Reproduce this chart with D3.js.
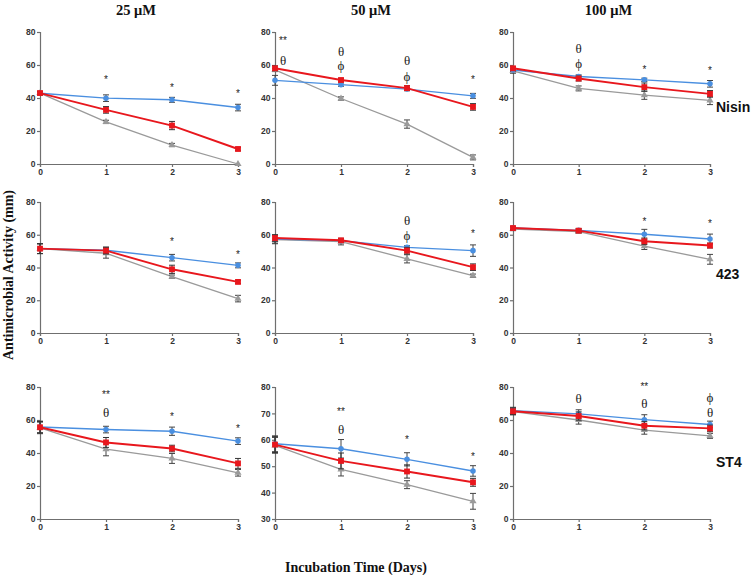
<!DOCTYPE html>
<html><head><meta charset="utf-8">
<script src="https://cdn.jsdelivr.net/npm/d3@7"></script>
<style>body{margin:0;background:#fff}svg{display:block}</style>
</head><body>
<script>
// ---------- DATA ----------
const days = [0, 1, 2, 3];
const concentrations = ["25 μM", "50 μM", "100 μM"];
const strains = ["Nisin", "423", "ST4"];
const yAxisLabel = "Antimicrobial Activity (mm)";
const xAxisLabel = "Incubation Time (Days)";
// panel order: row (strain) major, column (concentration) minor
const yTicksDefault = [0, 20, 40, 60, 80];
const yTicksST4_50 = [30, 40, 50, 60, 70, 80];
const blueMean = [
  [42.9, 39.9, 38.9, 34.2], [50.7, 48.1, 45.4, 41.3], [57.0, 53.0, 51.0, 48.6],
  [51.5, 50.5, 46.0, 41.3], [57.4, 56.4, 52.3, 50.3], [64.1, 62.7, 60.3, 57.4],
  [55.8, 54.2, 53.2, 47.2], [58.5, 56.6, 52.6, 48.2], [65.7, 63.7, 60.2, 57.3]
];
const blueErr = [
  [1, 2, 1.5, 2], [3, 1, 1, 1.5], [1, 1, 1, 2],
  [3, 2, 2, 1.5], [2.5, 1, 1, 3.5], [1, 1, 3, 3],
  [3.5, 2, 2.5, 2], [3, 3.5, 2.5, 2], [2, 2.5, 3, 2]
];
const redMean = [
  [43.0, 32.8, 23.3, 9.1], [58.0, 50.9, 46.0, 34.6], [58.0, 51.8, 46.6, 42.5],
  [51.5, 50.3, 38.9, 31.2], [58.0, 56.6, 50.3, 40.2], [64.1, 62.5, 56.0, 53.4],
  [55.6, 46.4, 42.7, 33.7], [58.2, 52.0, 48.0, 43.9], [65.3, 62.4, 56.5, 54.9]
];
const redErr = [
  [1, 2, 2.5, 1], [1.5, 1, 1.5, 2], [1, 1.5, 2.5, 2],
  [3, 2, 2.5, 1], [2, 1, 2, 2], [1, 1, 2, 1.5],
  [3.5, 3, 2, 3], [3, 3, 2.5, 1.5], [2, 2.5, 2.5, 2]
];
const grayMean = [
  [43.0, 25.5, 11.5, 0.0], [57.0, 39.7, 24.2, 4.0], [56.5, 45.8, 41.7, 38.5],
  [51.5, 48.7, 34.4, 21.0], [57.0, 55.8, 45.3, 35.0], [63.5, 61.9, 53.0, 45.0],
  [55.2, 42.3, 36.7, 28.0], [57.9, 48.8, 43.0, 36.7], [65.1, 60.0, 53.9, 50.4]
];
const grayErr = [
  [1, 1, 1, 0.5], [1, 1, 2.5, 1.5], [1.5, 1.5, 2.5, 2.5],
  [3, 3, 1, 2], [2.5, 2, 2.5, 1], [1, 1, 2, 3],
  [3.5, 4, 3, 2], [3, 2.5, 1.5, 3], [2, 2.5, 2.5, 1.5]
];
// significance marks: [day, value-level, symbol]
const marks = [
  [[1, 51, "*"], [2, 46.5, "*"], [3, 43, "*"]],
  [[0, 74.7, "**"], [0, 63, "θ"], [1, 68, "θ"], [1, 59.5, "ϕ"], [2, 62.5, "θ"], [2, 53, "ϕ"], [3, 51, "*"]],
  [[1, 70, "θ"], [1, 61, "ϕ"], [2, 57.5, "*"], [3, 56.5, "*"]],
  [[2, 55.6, "*"], [3, 47.9, "*"]],
  [[2, 69, "θ"], [2, 59.5, "ϕ"], [3, 61, "*"]],
  [[2, 67.8, "*"], [3, 66.8, "*"]],
  [[1, 75.4, "**"], [1, 64.3, "θ"], [2, 62, "*"], [3, 55, "*"]],
  [[1, 70.9, "**"], [1, 63.8, "θ"], [2, 60, "*"], [3, 53.7, "*"]],
  [[1, 72.9, "θ"], [2, 80.4, "**"], [2, 69.8, "θ"], [3, 73.5, "ϕ"], [3, 64.7, "θ"]]
];

// ---------- LAYOUT ----------
const W = 752, H = 575;
const colX = [[40, 238], [275, 473], [513, 710]];
const rowY = [[32, 164], [202, 333], [387, 519]];
const C = { blue: "#4a8fe0", red: "#e8171d", gray: "#9a9a9a", axis: "#6f6f6f", tick: "#333" };

const svg = d3.select("body").append("svg").attr("width", W).attr("height", H);

// titles
concentrations.forEach((c, i) => {
  svg.append("text").attr("x", (colX[i][0] + colX[i][1]) / 2 - 3).attr("y", 15)
    .attr("text-anchor", "middle").attr("font-family", "Liberation Serif, Times New Roman, serif")
    .attr("font-weight", "bold").attr("font-size", 14.5).attr("fill", "#111").text(c);
});
// strain labels
const strainY = [112, 279, 467];
strains.forEach((s, i) => {
  svg.append("text").attr("x", 716).attr("y", strainY[i])
    .attr("font-family", "Liberation Sans, Arial, sans-serif").attr("font-weight", "bold")
    .attr("font-size", 14).attr("fill", "#111").text(s);
});
// axis labels
svg.append("text").attr("transform", "translate(13,275) rotate(-90)").attr("text-anchor", "middle")
  .attr("font-family", "Liberation Serif, Times New Roman, serif").attr("font-weight", "bold")
  .attr("font-size", 14).attr("fill", "#111").text(yAxisLabel);
svg.append("text").attr("x", 356).attr("y", 572).attr("text-anchor", "middle")
  .attr("font-family", "Liberation Serif, Times New Roman, serif").attr("font-weight", "bold")
  .attr("font-size", 14).attr("fill", "#111").text(xAxisLabel);

const series = [
  { key: "gray", mean: grayMean, err: grayErr, color: C.gray, shape: d3.symbolTriangle, size: 22, lw: 1.3 },
  { key: "blue", mean: blueMean, err: blueErr, color: C.blue, shape: d3.symbolCircle, size: 24, lw: 1.4 },
  { key: "red", mean: redMean, err: redErr, color: C.red, shape: d3.symbolSquare, size: 34, lw: 1.9 }
];

for (let r = 0; r < 3; r++) {
  for (let c = 0; c < 3; c++) {
    const p = r * 3 + c;
    const ticks = (r === 2 && c === 1) ? yTicksST4_50 : yTicksDefault;
    const x = d3.scaleLinear().domain([0, 3]).range(colX[c]);
    const y = d3.scaleLinear().domain([ticks[0], 80]).range([rowY[r][1], rowY[r][0]]);
    const g = svg.append("g");

    const ya = g.append("g").attr("transform", `translate(${colX[c][0]},0)`)
      .call(d3.axisLeft(y).tickValues(ticks).tickFormat(d3.format("d")).tickSize(3).tickPadding(1.5));
    const xa = g.append("g").attr("transform", `translate(0,${rowY[r][1]})`)
      .call(d3.axisBottom(x).tickValues(days).tickFormat(d3.format("d")).tickSize(3).tickPadding(2));
    [ya, xa].forEach(a => {
      a.select(".domain").attr("stroke", C.axis).attr("stroke-width", 1.2);
      a.selectAll(".tick line").attr("stroke", C.axis).attr("stroke-width", 1.2);
      a.selectAll(".tick text").attr("fill", C.tick).attr("font-family", "Liberation Sans, Arial, sans-serif")
        .attr("font-weight", "bold").attr("font-size", 8.5);
    });

    series.forEach(s => {
      const vals = days.map((d, i) => ({ d, v: s.mean[p][i], e: s.err[p][i] }));
      g.append("path").datum(vals).attr("fill", "none").attr("stroke", s.color).attr("stroke-width", s.lw)
        .attr("d", d3.line().x(o => x(o.d)).y(o => y(o.v)));
      const eb = g.append("g").attr("stroke", s.key === "red" ? "#333" : "#444").attr("stroke-width", 1);
      vals.forEach(o => {
        if (o.e < 0.8) return;
        const cx = x(o.d), y1 = y(o.v + o.e), y2 = y(o.v - o.e);
        eb.append("line").attr("x1", cx).attr("x2", cx).attr("y1", y1).attr("y2", y2);
        eb.append("line").attr("x1", cx - 3).attr("x2", cx + 3).attr("y1", y1).attr("y2", y1);
        eb.append("line").attr("x1", cx - 3).attr("x2", cx + 3).attr("y1", y2).attr("y2", y2);
      });
      g.selectAll(null).data(vals).enter().append("path")
        .attr("transform", o => `translate(${x(o.d)},${y(o.v)})`)
        .attr("d", d3.symbol().type(s.shape).size(s.size)).attr("fill", s.color);
    });

    marks[p].forEach(([d, v, t]) => {
      const star = t.includes("*");
      g.append("text").attr("x", x(d) + (d === 0 ? 8 : 0)).attr("y", y(v))
        .attr("text-anchor", "middle").attr("dominant-baseline", "central")
        .attr("font-family", star ? "Liberation Sans, Arial, sans-serif" : "Liberation Serif, Times New Roman, serif")
        .attr("font-size", star ? 10 : 13).attr("fill", "#222").text(t);
    });
  }
}
</script>
</body></html>
